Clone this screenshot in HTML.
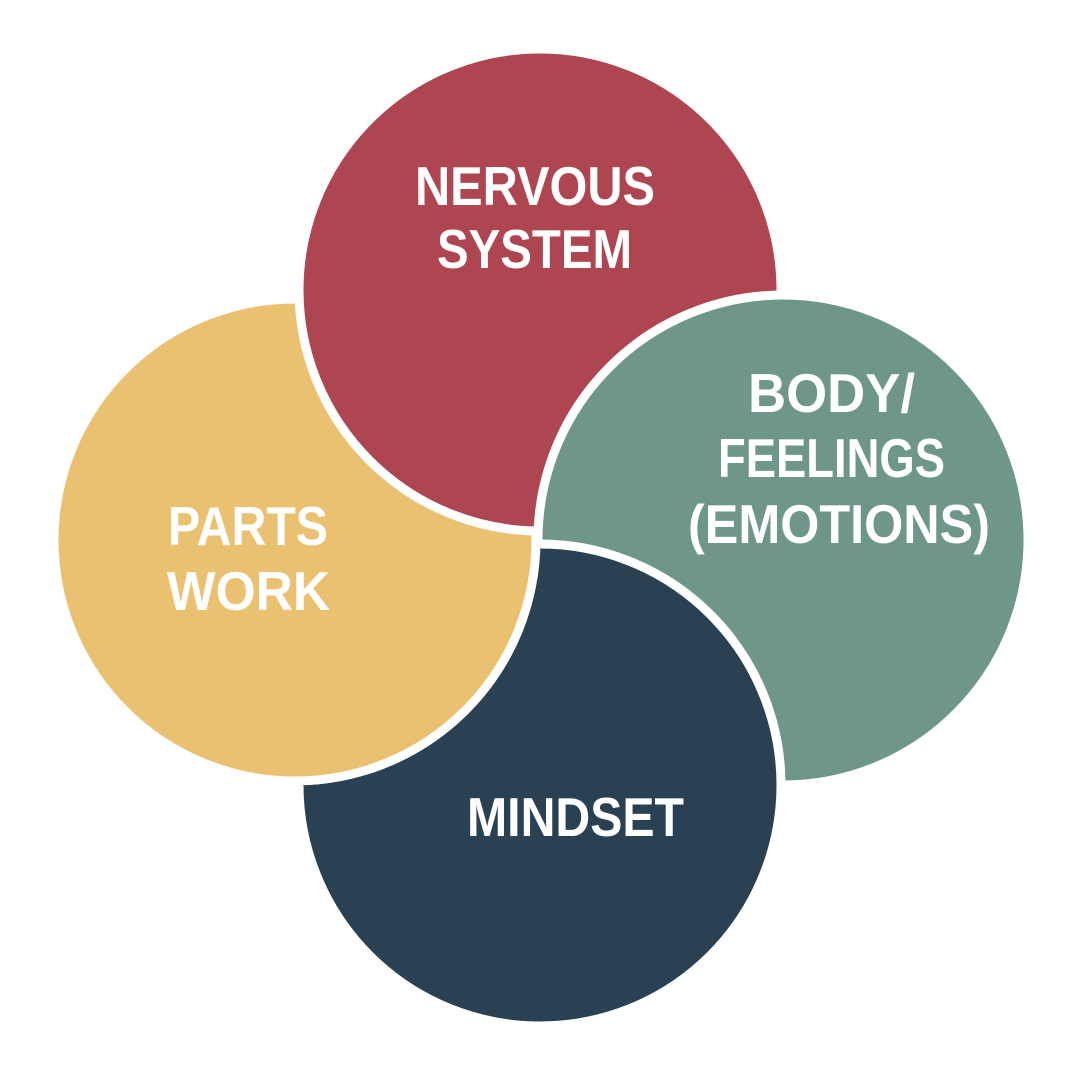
<!DOCTYPE html>
<html><head><style>html,body{margin:0;padding:0;background:#fff}svg{display:block}</style></head>
<body>
<svg width="1080" height="1080" viewBox="0 0 1080 1080" xmlns="http://www.w3.org/2000/svg">
<defs><clipPath id="rh"><path clip-rule="evenodd" d="M0 0H1080V1080H0Z M49.5 540a245.5 245.5 0 1 0 491 0a245.5 245.5 0 1 0 -491 0Z"/></clipPath></defs>
<g stroke="#fff" stroke-width="9">
<circle cx="540" cy="785" r="241" fill="#2A4153"/>
<circle cx="295" cy="540" r="241" fill="#EAC171"/>
<circle cx="540" cy="290" r="241" fill="#AE4651"/>
<circle cx="783" cy="540" r="245" fill="#6E968A"/>
<circle cx="540" cy="785" r="241" fill="#2A4153" clip-path="url(#rh)"/>
</g>
<g fill="#fff" font-family="Liberation Sans, sans-serif" font-weight="bold" font-size="55">
<text x="415" y="205" textLength="240" lengthAdjust="spacingAndGlyphs">NERVOUS</text>
<text x="437" y="268" textLength="195" lengthAdjust="spacingAndGlyphs">SYSTEM</text>
<text x="748" y="412" textLength="167" lengthAdjust="spacingAndGlyphs">BODY/</text>
<text x="718" y="477" textLength="227" lengthAdjust="spacingAndGlyphs">FEELINGS</text>
<text x="688" y="543" textLength="302" lengthAdjust="spacingAndGlyphs">(EMOTIONS)</text>
<text x="168" y="545" textLength="160" lengthAdjust="spacingAndGlyphs">PARTS</text>
<text x="167" y="610" textLength="163" lengthAdjust="spacingAndGlyphs">WORK</text>
<text x="467" y="836" textLength="217" lengthAdjust="spacingAndGlyphs">MINDSET</text>
</g>
</svg>
</body></html>
